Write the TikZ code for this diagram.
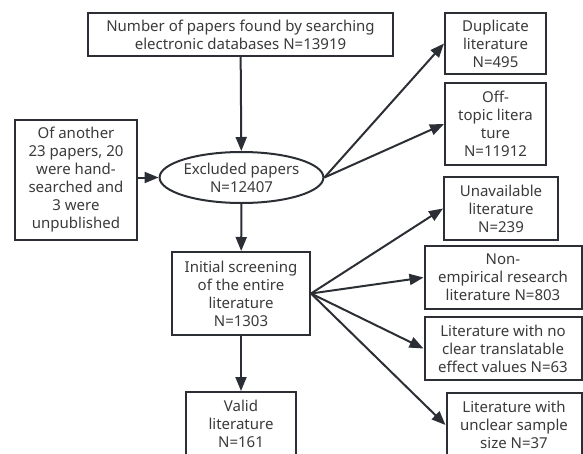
\documentclass[tikz,border=0pt]{standalone}
\usepackage{fontspec}
\setmainfont{Noto Sans}
\definecolor{trazo}{HTML}{2B2F35}
\definecolor{letra}{HTML}{3A3A3A}
\usetikzlibrary{arrows.meta, positioning, shapes.geometric}
\tikzset{
  caja/.style={draw=trazo, line width=2pt, align=center, inner sep=1pt,
               text=letra, font=\fontsize{15}{18}\selectfont},
  flecha/.style={draw=trazo, line width=2pt, -{Triangle[length=14pt, width=11pt]}}
}

\begin{document}
\begin{tikzpicture}[x=1pt, y=-1pt]
\useasboundingbox (0,0) rectangle (583,453);
\node[caja, minimum width=305pt, minimum height=43pt] (busq) at (240.5,34.5)
  {Number of papers found by searching\\electronic databases N=13919};
\node[caja, minimum width=122pt, minimum height=120pt] (mano) at (76,180)
  {Of another\\23 papers, 20\\were hand-\\searched and\\3 were\\unpublished};
\node[caja, ellipse, inner sep=0pt, minimum width=149pt, minimum height=51pt] (excl) at (241.5,177.5)
  {Excluded papers\\N=12407};
\node[caja, minimum width=138pt, minimum height=83pt] (inic) at (241,293.5)
  {Initial screening\\of the entire\\literature\\N=1303};
\node[caja, minimum width=110pt, minimum height=64pt] (valid) at (241,424)
  {Valid\\literature\\N=161};
% exclusiones
\node[caja, minimum width=101pt, minimum height=61pt] (dupl) at (495.5,43.5)
  {Duplicate\\literature\\N=495};
\node[caja, minimum width=101pt, minimum height=82pt] (fuera) at (495.5,124)
  {Off-\\topic litera\\ture\\N=11912};
\node[caja, minimum width=114pt, minimum height=63pt] (nodisp) at (501,208.5)
  {Unavailable\\literature\\N=239};
\node[caja, minimum width=157pt, minimum height=63pt] (noemp) at (503,277.5)
  {Non-\\empirical research\\literature N=803};
\node[caja, minimum width=157pt, minimum height=63pt] (noefec) at (503,348.5)
  {Literature with no\\clear translatable\\effect values N=63};
\node[caja, minimum width=135pt, minimum height=64pt] (nomuest) at (514,425)
  {Literature with\\unclear sample\\size N=37};

\draw[flecha] (busq) -- (excl);
\draw[flecha] (mano.east |- excl.west) -- (excl.west);
\draw[flecha] (excl.east) -- (dupl.west);
\draw[flecha] (excl.east) -- (fuera.west);
\draw[flecha] (excl) -- (inic);
\draw[flecha] (inic) -- (valid);
\foreach \dest in {nodisp, noemp, noefec, nomuest}
  \draw[flecha] (inic.east) -- (\dest.west);
\end{tikzpicture}
\end{document}
